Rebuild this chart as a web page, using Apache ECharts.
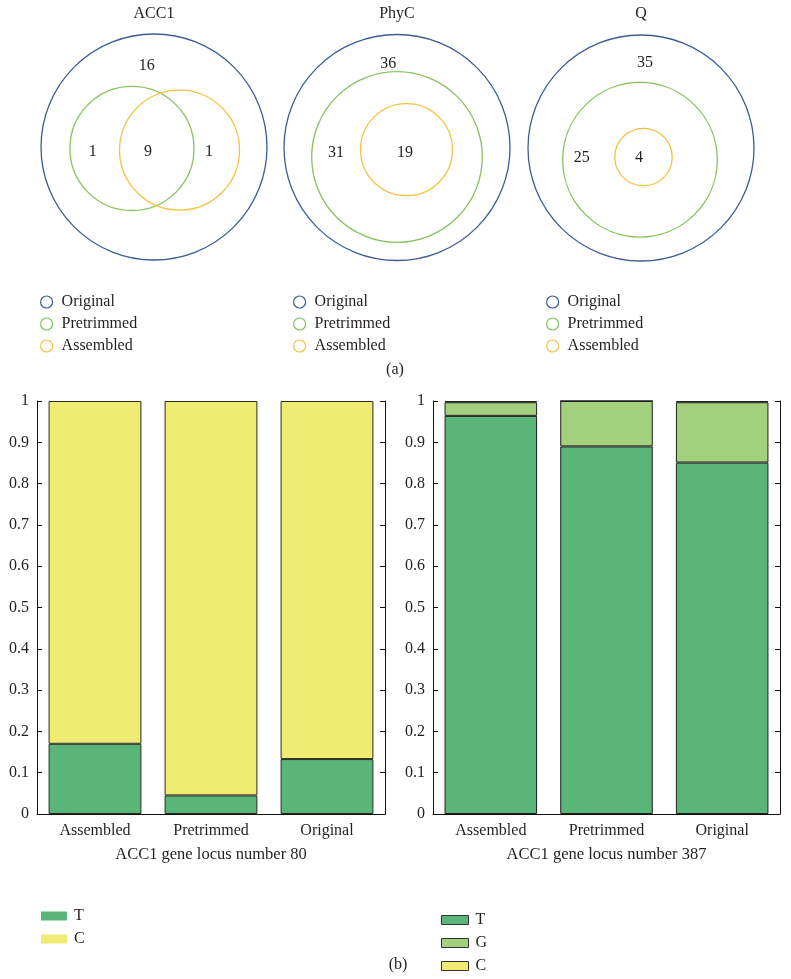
<!DOCTYPE html>
<html>
<head>
<meta charset="utf-8">
<script src="https://cdn.jsdelivr.net/npm/echarts@6/dist/echarts.min.js"></script>
<style>
html,body{margin:0;padding:0;background:#fff;}
#chart{width:791px;height:979px;}
</style>
</head>
<body>
<div id="chart"></div>
<script>
// ---------- data ----------
const vennTitles = ['ACC1', 'PhyC', 'Q'];
const setNames = ['Original', 'Pretrimmed', 'Assembled'];
const acc1Counts = [16, 1, 9, 1];
const phycCounts = [36, 31, 19];
const qCounts = [35, 25, 4];

const barCategories = ['Assembled', 'Pretrimmed', 'Original'];
const locus80T = [0.170, 0.045, 0.133];
const locus80C = [0.830, 0.955, 0.867];
const locus387T = [0.964, 0.890, 0.851];
const locus387G = [0.033, 0.110, 0.146];
const locus387C = [0.003, 0.000, 0.003];
const locus80Title = 'ACC1 gene locus number 80';
const locus387Title = 'ACC1 gene locus number 387';

// ---------- layout / style ----------
const FONT = 'Liberation Serif';
const FS = 16;
const TXT = '#231f20';
const setColors = ['#3b5d94', '#86c15c', '#f5c242'];
const cT = '#5ab579', cC = '#eeec72', cG = '#a2d07c';

// circle geometry (units of the outer circle radius) and label spots
const vennLayout = [
  { left: 41, top: 34, size: 226,
    circles: [[0, 0, 1], [-0.195, 0.013, 0.549], [0.226, 0.027, 0.531]],
    labels: [[-0.065, -0.717], [-0.542, 0.044], [-0.053, 0.044], [0.487, 0.044]] },
  { left: 284, top: 34.5, size: 226,
    circles: [[0, 0, 1], [0, 0.084, 0.755], [0.084, 0.019, 0.407]],
    labels: [[-0.077, -0.745], [-0.54, 0.046], [0.071, 0.046]] },
  { left: 528, top: 35, size: 226,
    circles: [[0, 0, 1], [-0.009, 0.104, 0.684], [0.022, 0.08, 0.254]],
    labels: [[0.035, -0.75], [-0.525, 0.091], [-0.018, 0.091]] }
];
const vennCounts = [acc1Counts, phycCounts, qCounts];

const grids = [], xAxes = [], yAxes = [], series = [], legends = [], graphics = [];

vennLayout.forEach((v, i) => {
  grids.push({ left: v.left, top: v.top, width: v.size, height: v.size });
  xAxes.push({ type: 'value', gridIndex: i, min: -1, max: 1, show: false });
  yAxes.push({ type: 'value', gridIndex: i, min: -1, max: 1, inverse: true, show: false });
  setNames.forEach((name, k) => {
    series.push({
      type: 'custom', name: name, xAxisIndex: i, yAxisIndex: i,
      itemStyle: { color: setColors[k] },
      data: [v.circles[k]],
      renderItem: function (params, api) {
        const c = api.coord([api.value(0), api.value(1)]);
        const r = api.size([api.value(2), 0])[0];
        return { type: 'circle', shape: { cx: c[0], cy: c[1], r: r },
          style: { fill: 'none', stroke: setColors[k], lineWidth: 1.3 } };
      }
    });
  });
  series.push({
    type: 'custom', name: 'counts' + i, xAxisIndex: i, yAxisIndex: i,
    data: vennCounts[i].map((n, j) => [v.labels[j][0], v.labels[j][1], n]),
    renderItem: function (params, api) {
      const c = api.coord([api.value(0), api.value(1)]);
      return { type: 'text', x: c[0], y: c[1],
        style: { text: String(api.value(2)), textAlign: 'center', textVerticalAlign: 'middle',
          font: FS + 'px "' + FONT + '"', fill: TXT } };
    }
  });
  graphics.push({ type: 'text', x: v.left + v.size / 2, y: 14,
    style: { text: vennTitles[i], textAlign: 'center', textVerticalAlign: 'middle',
      font: FS + 'px "' + FONT + '"', fill: TXT } });
});

const legendX = [35, 288, 541];
legendX.forEach((lx) => {
  legends.push({
    orient: 'vertical', left: lx, top: 289, height: 90, itemWidth: 12, itemHeight: 12, itemGap: 6,
    selectedMode: false,
    icon: 'circle',
    textStyle: { fontFamily: FONT, fontSize: FS, color: TXT, lineHeight: 16, padding: [0, 0, 0, 4] },
    data: setNames.map((n, k) => ({ name: n,
      itemStyle: { color: '#fff', borderColor: setColors[k], borderWidth: 1.2 } }))
  });
});

// bar charts
const barGrids = [
  { left: 37, right: 406, top: 401, bottom: 165 },
  { left: 433, right: 11, top: 401, bottom: 165 }
];
barGrids.forEach((g, j) => {
  const gi = 3 + j;
  grids.push(g);
  xAxes.push({
    type: 'category', gridIndex: gi, data: barCategories,
    name: j === 0 ? locus80Title : locus387Title,
    nameLocation: 'middle', nameGap: 32,
    nameTextStyle: { fontFamily: FONT, fontSize: 16.5, color: TXT },
    axisLine: { lineStyle: { color: '#111', width: 1 } },
    axisTick: { show: false },
    axisLabel: { fontFamily: FONT, fontSize: FS, color: TXT, margin: 9 }
  });
  const yCommon = {
    type: 'value', gridIndex: gi, min: 0, max: 1, interval: 0.1,
    axisLine: { show: true, lineStyle: { color: '#111', width: 1 } },
    axisTick: { show: true, inside: true, length: 5, lineStyle: { color: '#111' } },
    splitLine: { show: false }
  };
  yAxes.push(Object.assign({}, yCommon, { position: 'left',
    axisLabel: { fontFamily: FONT, fontSize: FS, color: TXT, margin: 8,
      formatter: (v) => String(Math.round(v * 10) / 10) } }));
  yAxes.push(Object.assign({}, yCommon, { position: 'right', axisLabel: { show: false } }));
});

const barBase = (name, data, color, xi, yi, bc) => ({
  type: 'bar', name: name, stack: 'total' + xi, xAxisIndex: xi, yAxisIndex: yi,
  barCategoryGap: '20%', data: data,
  itemStyle: { color: color, borderColor: bc, borderWidth: 1 },
  emphasis: { disabled: true }
});
series.push(barBase('T', locus80T, cT, 3, 3, '#2a2a1e'));
series.push(barBase('C', locus80C, cC, 3, 3, '#2a2a1e'));
series.push(barBase('T', locus387T, cT, 4, 5, '#1e1e1e'));
series.push(barBase('G', locus387G, cG, 4, 5, '#1e1e1e'));
series.push(barBase('C', locus387C, cC, 4, 5, '#1e1e1e'));

legends.push({
  orient: 'vertical', left: 36, top: 903, height: 70, itemWidth: 26, itemHeight: 9, itemGap: 7,
  selectedMode: false, icon: 'rect',
  textStyle: { fontFamily: FONT, fontSize: FS, color: TXT, lineHeight: 16, padding: [0, 0, 0, 2] },
  data: [{ name: 'T', itemStyle: { color: cT, borderWidth: 0 } },
         { name: 'C', itemStyle: { color: cC, borderWidth: 0 } }]
});
legends.push({
  orient: 'vertical', left: 436, top: 907, height: 72, itemWidth: 27, itemHeight: 9, itemGap: 7,
  selectedMode: false, icon: 'rect',
  textStyle: { fontFamily: FONT, fontSize: FS, color: TXT, lineHeight: 16, padding: [0, 0, 0, 2] },
  data: [{ name: 'T', itemStyle: { color: cT, borderColor: '#333', borderWidth: 1 } },
         { name: 'G', itemStyle: { color: cG, borderColor: '#333', borderWidth: 1 } },
         { name: 'C', itemStyle: { color: cC, borderColor: '#333', borderWidth: 1 } }]
});

graphics.push({ type: 'text', x: 395, y: 370,
  style: { text: '(a)', textAlign: 'center', textVerticalAlign: 'middle', font: FS + 'px "' + FONT + '"', fill: TXT } });
graphics.push({ type: 'text', x: 398, y: 965,
  style: { text: '(b)', textAlign: 'center', textVerticalAlign: 'middle', font: FS + 'px "' + FONT + '"', fill: TXT } });

const chart = echarts.init(document.getElementById('chart'), null, { renderer: 'canvas' });
chart.setOption({
  backgroundColor: '#fff',
  animation: false,
  grid: grids, xAxis: xAxes, yAxis: yAxes,
  legend: legends, series: series, graphic: graphics
});
</script>
</body>
</html>
